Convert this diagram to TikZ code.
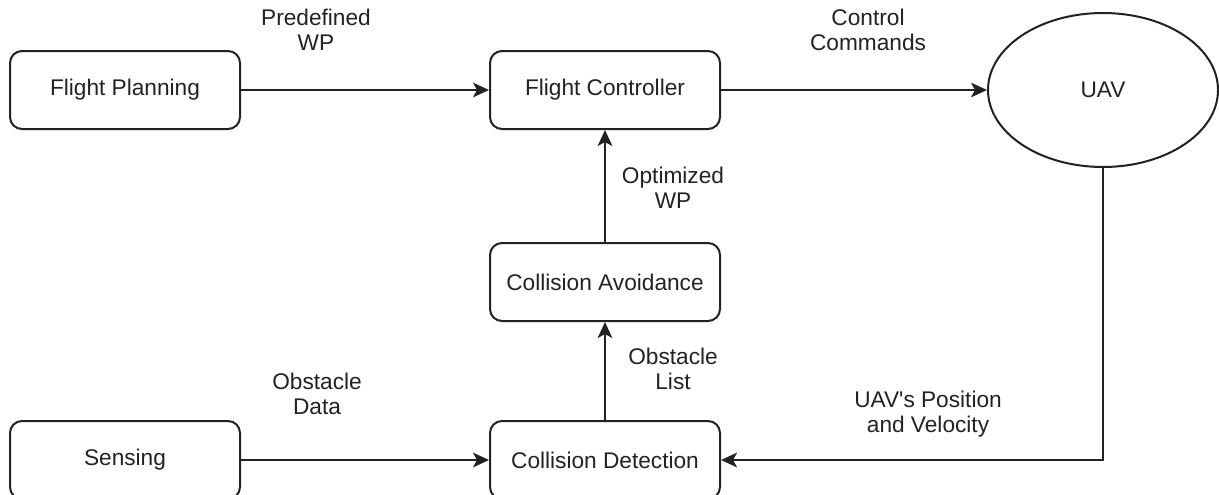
\documentclass[tikz,border=0pt]{standalone}
\usepackage{fontspec}
\setmainfont{Liberation Sans}
\usetikzlibrary{arrows.meta,shapes.geometric}
\definecolor{ink}{HTML}{222222}
\begin{document}
\begin{tikzpicture}[x=0.75pt,y=-0.75pt,
  box/.style={draw=ink, line width=1.5pt, rounded corners=9pt, minimum width=172.5pt, minimum height=58.5pt, font=\fontsize{17}{19}\selectfont, text=ink, inner sep=0pt},
  oval/.style={ellipse, draw=ink, line width=1.5pt, minimum width=172.5pt, minimum height=115.5pt, font=\fontsize{17}{19}\selectfont, text=ink, inner sep=0pt},
  lbl/.style={align=center, font=\fontsize{17}{19}\selectfont, inner sep=0pt, text=ink},
  conn/.style={draw=ink, line width=1.5pt, -{Stealth[length=12pt,width=11pt,inset=3pt]}},
]
\useasboundingbox (0,0) rectangle (1219,494);
\clip (0,0) rectangle (1219,494);
\node[box] (fp) at (125,90) {Flight Planning};
\node[box] (fc) at (605,90) {Flight Controller};
\node[oval] (uav) at (1103,90) {UAV};
\node[box] (ca) at (605,282) {Collision Avoidance};
\node[box] (se) at (125,460) {Sensing};
\node[box] (cd) at (605,460) {Collision Detection};

\draw[conn] (fp) -- (fc);
\draw[conn] (fc) -- (uav);
\draw[conn] (ca) -- (fc);
\draw[conn] (cd) -- (ca);
\draw[conn] (se) -- (cd);
\draw[conn] (uav.south) |- (cd.east);

\node[lbl] (l1) at (316,30) {Predefined\\WP};
\node[lbl] (l2) at (868,30) {Control\\Commands};
\node[lbl] (l3) at (673,188) {Optimized\\WP};
\node[lbl] (l4) at (673,369) {Obstacle\\List};
\node[lbl] (l5) at (317,394) {Obstacle\\Data};
\node[lbl] (l6) at (928,414) {UAV\textquotesingle s Position\\and Velocity};
\end{tikzpicture}
\end{document}
